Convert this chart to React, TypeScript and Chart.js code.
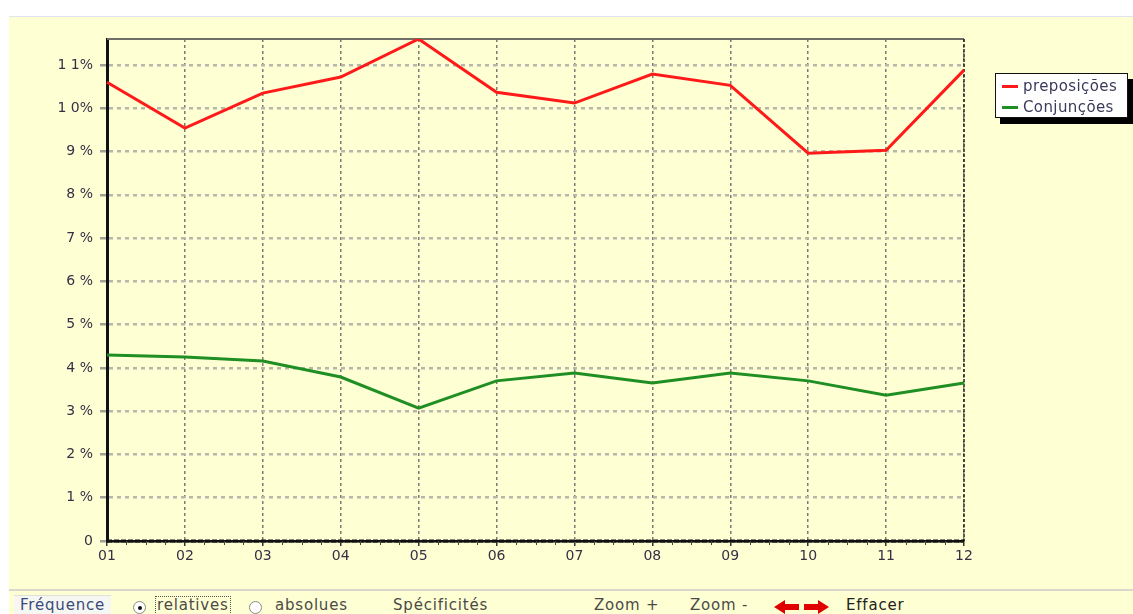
import React, { useEffect, useRef } from "react";
import { Chart, registerables } from "chart.js";

Chart.register(...registerables);

const categories = ["01", "02", "03", "04", "05", "06", "07", "08", "09", "10", "11", "12"];
const preposicoes = [10.6, 9.54, 10.35, 10.72, 11.6, 10.37, 10.12, 10.79, 10.53, 8.96, 9.03, 10.88];
const conjuncoes = [4.3, 4.25, 4.16, 3.79, 3.07, 3.7, 3.88, 3.65, 3.88, 3.7, 3.37, 3.65];
const yTickValues = [0, 1, 2, 3, 4, 5, 6, 7, 8, 9, 10, 11];
const yTickLabels = ["0", "1 %", "2 %", "3 %", "4 %", "5 %", "6 %", "7 %", "8 %", "9 %", "1 0%", "1 1%"];
const yMax = 11.6;
const seriesNames = ["preposições", "Conjunções"];
const seriesColors = ["#ff1a1a", "#1f8f24"];

const FONT = "'DejaVu Sans', Verdana, sans-serif";

const framePlugin = {
  id: "frame",
  beforeDatasetsDraw(chart: any) {
    const { ctx, chartArea } = chart;
    const { left, right, top, bottom } = chartArea;
    ctx.save();
    // top border
    ctx.strokeStyle = "#6e6e66";
    ctx.lineWidth = 2;
    ctx.setLineDash([]);
    ctx.beginPath();
    ctx.moveTo(left, top);
    ctx.lineTo(right, top);
    ctx.stroke();
    // right border dashed
    ctx.strokeStyle = "#222";
    ctx.lineWidth = 1.5;
    ctx.setLineDash([3, 2]);
    ctx.beginPath();
    ctx.moveTo(right, top);
    ctx.lineTo(right, bottom);
    ctx.stroke();
    // bottom axis: dashed look
    ctx.strokeStyle = "#111";
    ctx.lineWidth = 3;
    ctx.setLineDash([5, 2]);
    ctx.beginPath();
    ctx.moveTo(left, bottom);
    ctx.lineTo(right, bottom);
    ctx.stroke();
    // minor ticks on bottom axis
    const xs = chart.scales.x;
    ctx.setLineDash([]);
    ctx.strokeStyle = "#444";
    ctx.lineWidth = 1;
    for (let i = 0; i < categories.length - 1; i++) {
      const a = xs.getPixelForValue(i);
      const b = xs.getPixelForValue(i + 1);
      for (let k = 1; k < 4; k++) {
        const x = Math.round(a + ((b - a) * k) / 4) + 0.5;
        ctx.beginPath();
        ctx.moveTo(x, bottom);
        ctx.lineTo(x, bottom + 4);
        ctx.stroke();
      }
    }
    ctx.restore();
  },
};

function RadioDot({ checked }: { checked: boolean }) {
  return (
    <span
      style={{
        display: "inline-block",
        width: 13,
        height: 13,
        borderRadius: "50%",
        border: "1px solid #8a8a8a",
        background: "#fff",
        position: "relative",
        boxSizing: "border-box",
      }}
    >
      {checked && (
        <span
          style={{
            position: "absolute",
            left: 3.5,
            top: 3.5,
            width: 4,
            height: 4,
            borderRadius: "50%",
            background: "#111",
          }}
        />
      )}
    </span>
  );
}

export default function App() {
  const canvasRef = useRef<HTMLCanvasElement | null>(null);

  useEffect(() => {
    const canvas = canvasRef.current;
    if (!canvas) return;
    const chart = new Chart(canvas, {
      type: "line",
      data: {
        labels: categories,
        datasets: [
          {
            label: seriesNames[0],
            data: preposicoes,
            borderColor: seriesColors[0],
            backgroundColor: seriesColors[0],
            borderWidth: 3,
            pointRadius: 0,
            tension: 0,
          },
          {
            label: seriesNames[1],
            data: conjuncoes,
            borderColor: seriesColors[1],
            backgroundColor: seriesColors[1],
            borderWidth: 3,
            pointRadius: 0,
            tension: 0,
          },
        ],
      },
      options: {
        animation: false,
        responsive: false,
        maintainAspectRatio: false,
        events: [],
        layout: { padding: { left: 0, right: 169, top: 39, bottom: 0 } },
        plugins: {
          legend: { display: false },
          tooltip: { enabled: false },
          title: { display: false },
        },
        scales: {
          x: {
            type: "category",
            offset: false,
            afterFit(scale: any) {
              scale.height = 49;
            },
            grid: {
              color: "#7c7c74",
              lineWidth: 1.5,
              tickLength: 5,
              tickColor: "#333",
            },
            border: { color: "#111", width: 2.5, dash: [3, 3] },
            ticks: {
              color: "#353045",
              font: { family: FONT, size: 14 },
              padding: 2,
              maxRotation: 0,
              autoSkip: false,
            },
          },
          y: {
            type: "linear",
            min: 0,
            max: yMax,
            afterFit(scale: any) {
              scale.width = 107;
            },
            afterBuildTicks(scale: any) {
              scale.ticks = yTickValues.map((v) => ({ value: v }));
            },
            grid: {
              color: "#b6b6ac",
              lineWidth: 2.5,
              tickLength: 7,
              tickColor: "#a0a098",
            },
            border: { color: "#111", width: 3, dash: [4, 4] },
            ticks: {
              color: "#353045",
              font: { family: FONT, size: 14 },
              padding: 7,
              callback: (v: any) => {
                const i = yTickValues.indexOf(Number(v));
                return i >= 0 ? yTickLabels[i] : "";
              },
            },
          },
        },
      },
      plugins: [framePlugin],
    } as any);

    return () => chart.destroy();
  }, []);

  const toolbarText: React.CSSProperties = {
    position: "absolute",
    top: 597,
    fontFamily: FONT,
    fontSize: 15,
    lineHeight: "17px",
    letterSpacing: "0.8px",
    color: "#4a4a48",
    whiteSpace: "nowrap",
  };

  return (
    <div
      style={{
        position: "fixed",
        left: 0,
        top: 0,
        width: 1133,
        height: 614,
        background: "#ffffff",
        overflow: "hidden",
      }}
    >
      <div
        style={{
          position: "absolute",
          left: 9,
          top: 16,
          width: 1124,
          height: 598,
          background: "#ffffd4",
          borderTop: "1px solid #dde6ee",
        }}
      />
      <div
        style={{
          position: "absolute",
          left: 9,
          top: 589,
          width: 1124,
          height: 2,
          background: "#d8d8cc",
        }}
      />
      <canvas
        ref={canvasRef}
        width={1133}
        height={590}
        style={{ position: "absolute", left: 0, top: 0, width: 1133, height: 590 }}
      />
      {/* legend */}
      <div
        style={{
          position: "absolute",
          left: 995,
          top: 73,
          width: 131,
          height: 43,
          background: "#ffffff",
          border: "1px solid #111",
          boxShadow: "5px 6px 0 #000",
          fontFamily: FONT,
          fontSize: 15,
          letterSpacing: "0.4px",
          color: "#3a3a5a",
        }}
      >
        {seriesNames.map((name, i) => (
          <div
            key={name}
            style={{
              position: "absolute",
              left: 6,
              top: 2 + i * 21,
              height: 20,
              display: "flex",
              alignItems: "center",
              whiteSpace: "nowrap",
            }}
          >
            <span
              style={{
                display: "inline-block",
                width: 16,
                height: 3,
                background: seriesColors[i],
                marginRight: 5,
              }}
            />
            {name}
          </div>
        ))}
      </div>
      {/* toolbar */}
      <div
        style={{
          position: "absolute",
          left: 14,
          top: 595,
          width: 97,
          height: 19,
          background: "#f6f6f2",
          borderTop: "1px solid #e0e0dc",
        }}
      />
      <div style={{ ...toolbarText, left: 20, color: "#3a4a7a" }}>Fréquence</div>
      <div style={{ position: "absolute", left: 133, top: 600 }}>
        <RadioDot checked={true} />
      </div>
      <div
        style={{
          ...toolbarText,
          left: 155,
          top: 596,
          padding: "0 1px",
          border: "1px dotted #555",
        }}
      >
        relatives
      </div>
      <div style={{ position: "absolute", left: 249, top: 600 }}>
        <RadioDot checked={false} />
      </div>
      <div style={{ ...toolbarText, left: 275 }}>absolues</div>
      <div style={{ ...toolbarText, left: 393 }}>Spécificités</div>
      <div style={{ ...toolbarText, left: 594 }}>Zoom +</div>
      <div style={{ ...toolbarText, left: 690 }}>Zoom -</div>
      <svg
        style={{ position: "absolute", left: 774, top: 599 }}
        width={56}
        height={16}
        viewBox="0 0 56 16"
      >
        <polygon points="0,8 11,1 11,5 25,5 25,11 11,11 11,15" fill="#e00000" />
        <polygon points="55,8 44,1 44,5 30,5 30,11 44,11 44,15" fill="#e00000" />
      </svg>
      <div style={{ ...toolbarText, left: 846, color: "#222" }}>Effacer</div>
    </div>
  );
}
